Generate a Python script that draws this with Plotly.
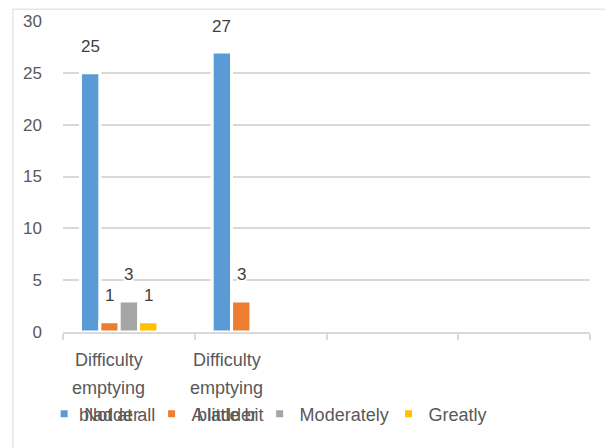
import plotly.graph_objects as go

# ---- data -------------------------------------------------------------
categories = ["Difficulty emptying bladder", "Difficulty emptying bladder", "", ""]
series_names = ["Not at all", "A little bit", "Moderately", "Greatly", ""]
not_at_all = [25, 27, None, None]
a_little_bit = [1, 3, None, None]
moderately = [3, None, None, None]
greatly = [1, None, None, None]
unnamed = [None, None, None, None]
y_ticks = [0, 5, 10, 15, 20, 25, 30]

# ---- style ------------------------------------------------------------
colors = ["#5b9bd5", "#ed7d31", "#a5a5a5", "#ffc000", "#4472c4"]
legend_ids = ["legend", "legend2", "legend3", "legend4", None]
legend_x = [-0.0358, 0.1681, 0.3731, 0.6178]   # left edge of each legend entry
label_shift = [-20, -34, 0, 0]      # horizontal nudge of category captions
BARGAP = 0.265
FONT = "Liberation Sans, Arial, sans-serif"
TEXT = "#595959"
VALUE_TEXT = "#404040"
GRID = "#d9d9d9"

series = [not_at_all, a_little_bit, moderately, greatly, unnamed]
n = len(series)
x = list(range(len(categories)))
slot = (1 - BARGAP) / n

fig = go.Figure()
for k, (name, vals, col) in enumerate(zip(series_names, series, colors)):
    fig.add_bar(
        x=x, y=vals, name=name, marker_color=col,
        marker_line=dict(color="white", width=3),
        showlegend=False, hoverinfo="skip",
    )
    if name:
        # small square swatch for the legend entry
        fig.add_scatter(
            x=[None], y=[None], mode="markers", name=name,
            legend=legend_ids[k],
            marker=dict(symbol="square", size=7, color=col),
        )
    # value labels above each bar
    for i, v in enumerate(vals):
        if v is None:
            continue
        fig.add_annotation(
            x=i + (k - (n - 1) / 2) * slot, y=v, text=str(v),
            showarrow=False, yanchor="middle", yshift=26,
            bgcolor="white", borderpad=0,
            font=dict(family=FONT, size=17, color=VALUE_TEXT),
        )

# category captions, one word per line under the axis
for i, cat in enumerate(categories):
    for j, word in enumerate(cat.split()):
        fig.add_annotation(
            x=i, y=0, text=word, showarrow=False,
            xshift=label_shift[i], yanchor="middle", yshift=-(28 + 27.5 * j),
            font=dict(family=FONT, size=18, color=TEXT),
        )

# chart-area border (top and left edges)
fig.add_shape(type="line", xref="paper", yref="paper",
              x0=-0.095, x1=-0.095, y0=1.038, y1=-0.5,
              line=dict(color=GRID, width=1))
fig.add_shape(type="line", xref="paper", yref="paper",
              x0=-0.095, x1=1.1, y0=1.038, y1=1.038,
              line=dict(color=GRID, width=1))

legend_style = dict(
    orientation="h", xanchor="left", y=-0.2635, yanchor="middle",
    bgcolor="rgba(0,0,0,0)", font=dict(family=FONT, size=18, color=TEXT),
    itemwidth=30,
)
legends = {lid: dict(legend_style, x=lx) for lid, lx in zip(legend_ids, legend_x)}

fig.update_layout(
    width=605, height=448, autosize=False,
    margin=dict(l=63, r=15, t=17, b=116),
    paper_bgcolor="white", plot_bgcolor="white",
    barmode="group", bargap=BARGAP, bargroupgap=0,
    font=dict(family=FONT, size=18, color=TEXT),
    showlegend=True,
    **legends,
    xaxis=dict(
        range=[-0.5, len(categories) - 0.5],
        tickvals=[i - 0.5 for i in range(len(categories) + 1)],
        showticklabels=False, ticks="outside", ticklen=6, tickwidth=1.5,
        tickcolor=GRID, showline=True, linecolor=GRID, linewidth=1.5,
        showgrid=False, zeroline=False, fixedrange=True,
    ),
    yaxis=dict(
        range=[0, 30], tickvals=y_ticks, showgrid=True, gridcolor=GRID,
        gridwidth=1.5, zeroline=False, showline=False, ticks="",
        ticklabelstandoff=20, tickfont=dict(family=FONT, size=17, color=TEXT),
        fixedrange=True,
    ),
)

fig.write_html("out.html")
